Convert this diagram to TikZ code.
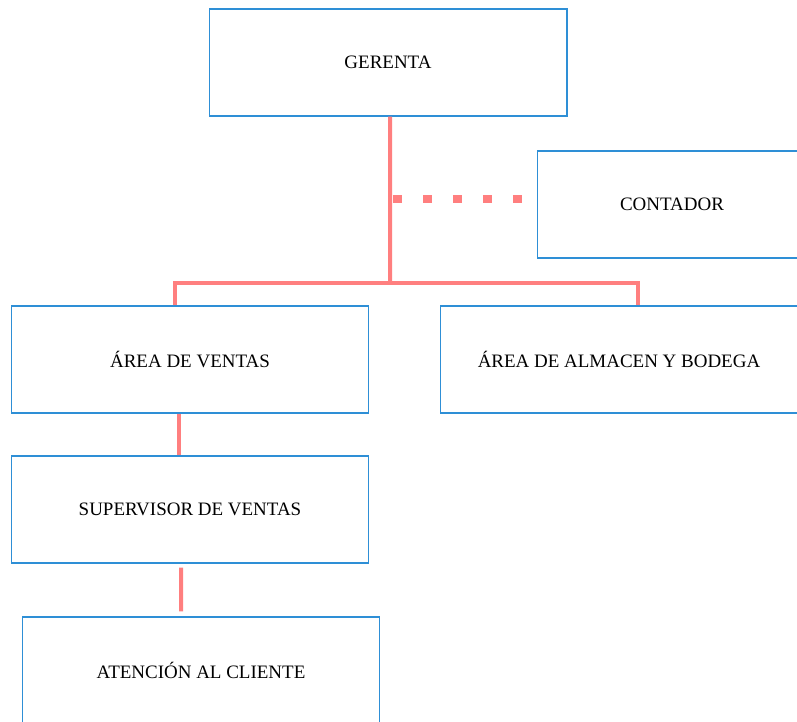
\documentclass[tikz,border=0pt]{standalone}
\usepackage{fontspec}
\setmainfont{Liberation Serif}
\definecolor{boxblue}{HTML}{2E8FD6}
\definecolor{linkred}{HTML}{FF7F7F}

\begin{document}
\begin{tikzpicture}[x=0.02cm,y=-0.02cm,line cap=butt]
        \tikzstyle{unit}=[draw=boxblue,line width=0.6pt,fill=white,minimum width=7.16cm,minimum height=2.14cm,inner sep=0pt,font=\fontsize{10.8}{12}\selectfont]
        \tikzstyle{link}=[draw=linkred,line width=0.08cm]
        \tikzstyle{dot link}=[draw=linkred,line width=0.15cm,dash pattern=on 0.18cm off 0.42cm]

        \useasboundingbox (0,0) rectangle (797,722);
        \clip (0,0) rectangle (797,722);

        % Draw the boxes
        \node[unit] (gerenta) at (388,62.5) {GERENTA};
        \node[unit, minimum width=5.4cm] (contador) at (672,204.5) {CONTADOR};
        \node[unit] (ventas) at (190,359.5) {ÁREA DE VENTAS};
        \node[unit] (almacen) at (619,359.5) {ÁREA DE ALMACEN Y BODEGA};
        \node[unit] (supervisor) at (190,509.5) {SUPERVISOR DE VENTAS};
        \node[unit] (atencion) at (201,670.5) {ATENCIÓN AL CLIENTE};

        % Connect gerenta with the two areas
        \coordinate (bus) at (390,283);
        \coordinate (mid) at (393,199);
        \draw[link] ([xshift=0.04cm]gerenta.south) -- (bus);
        \draw[link] ([xshift=-0.3cm]ventas.north) |- (bus) -| ([xshift=0.38cm]almacen.north);
        \draw[dot link,shorten >=0.3cm] (mid) -- (contador.west |- mid);

        % Connect the sales chain
        \draw[link] ([xshift=-0.22cm]ventas.south) -- ([xshift=-0.22cm]supervisor.north);
        \draw[link,shorten <=0.08cm,shorten >=0.1cm] ([xshift=-0.18cm]supervisor.south) -- ([xshift=-0.4cm]atencion.north);

\end{tikzpicture}
\end{document}
